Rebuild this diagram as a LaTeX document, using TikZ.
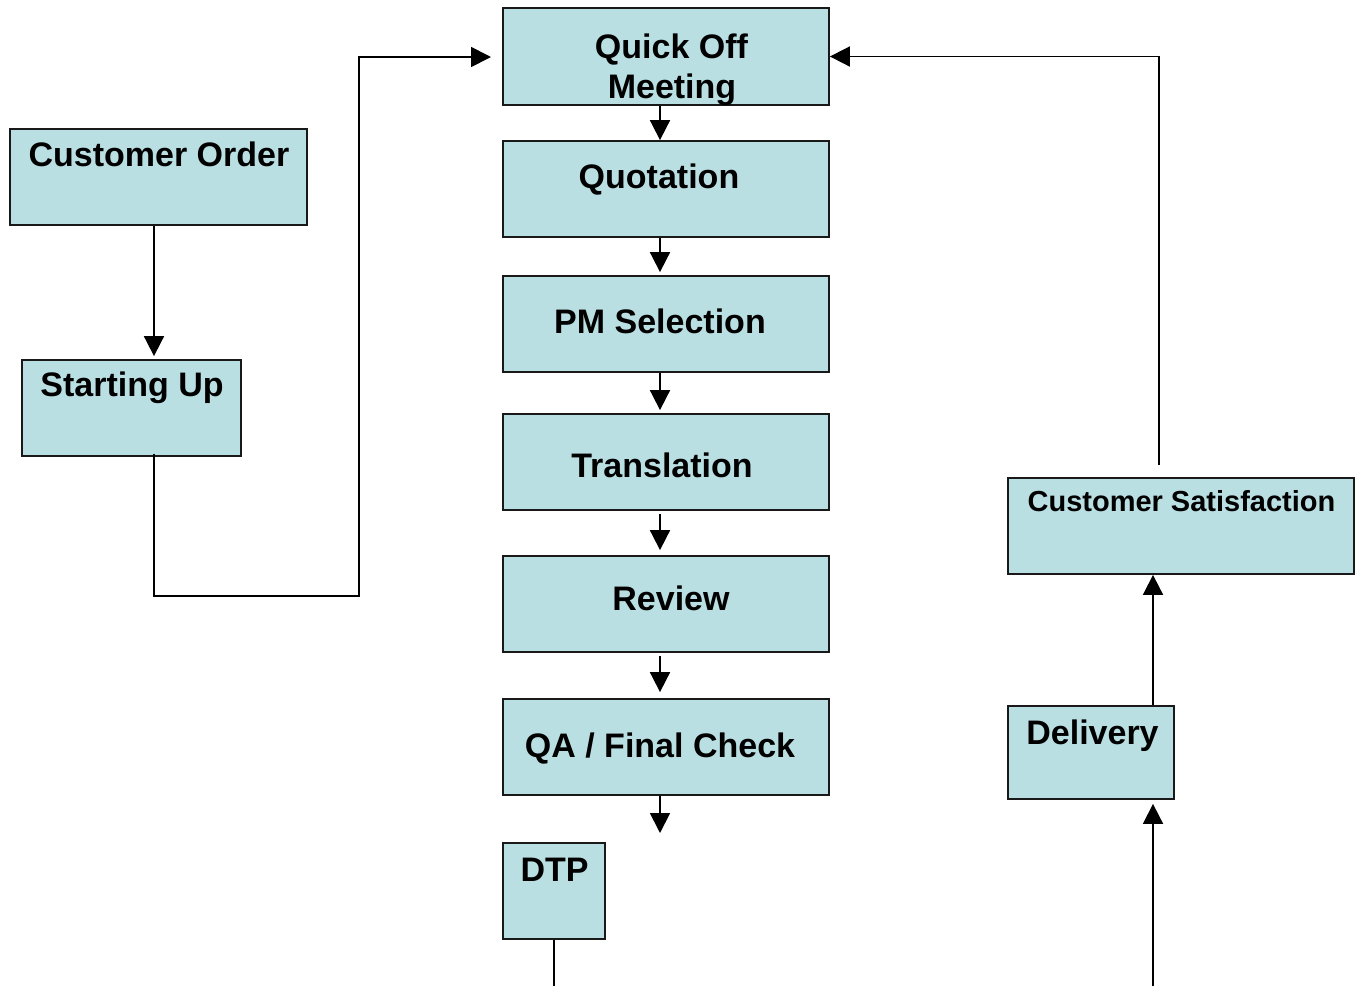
\documentclass[tikz,border=0pt]{standalone}
\usepackage{fontspec}
\setmainfont{Liberation Sans}
\usetikzlibrary{arrows.meta,calc}
\definecolor{boxfill}{RGB}{186,223,227}
\definecolor{boxline}{RGB}{25,25,25}
\tikzset{
  flowbox/.style={draw=boxline,line width=1.8pt,fill=boxfill,rectangle,inner sep=0pt},
  lbl/.style={anchor=base,inner sep=0pt,font=\bfseries\fontsize{34}{40}\selectfont},
  lblsmall/.style={anchor=base,inner sep=0pt,font=\bfseries\fontsize{29}{34}\selectfont},
  conn/.style={draw=black,line width=1.8pt},
  arr/.style={conn,-{Triangle[length=20pt,width=20pt]}}
}
\begin{document}
\begin{tikzpicture}[x=1pt,y=-1pt]
\useasboundingbox (0,0) rectangle (1362,986);
% boxes
\node[flowbox,minimum width=326pt,minimum height=97pt] (qom) at (666,56.5) {};
\node[flowbox,minimum width=326pt,minimum height=96pt] (quo) at (666,189) {};
\node[flowbox,minimum width=326pt,minimum height=96pt] (pm) at (666,324) {};
\node[flowbox,minimum width=326pt,minimum height=96pt] (tra) at (666,462) {};
\node[flowbox,minimum width=326pt,minimum height=96pt] (rev) at (666,604) {};
\node[flowbox,minimum width=326pt,minimum height=96pt] (qa) at (666,747) {};
\node[flowbox,minimum width=102pt,minimum height=96pt] (dtp) at (554,891) {};
\node[flowbox,minimum width=297pt,minimum height=96pt] (co) at (158.5,177) {};
\node[flowbox,minimum width=219pt,minimum height=96pt] (su) at (131.5,408) {};
\node[flowbox,minimum width=346pt,minimum height=96pt] (cs) at (1181,526) {};
\node[flowbox,minimum width=166pt,minimum height=93pt] (del) at (1091,752.5) {};
% labels
\node[lbl] (tqom1) at (671.5,58) {Quick Off};
\node[lbl] (tqom2) at (672,98) {Meeting};
\node[lbl] (tquo) at (659,188) {Quotation};
\node[lbl] (tpm) at (660,333) {PM Selection};
\node[lbl] (ttra) at (662,477) {Translation};
\node[lbl] (trev) at (671,610) {Review};
\node[lbl] (tqa) at (660,757) {QA / Final Check};
\node[lbl] (tdtp) at (554.5,881) {DTP};
\node[lbl] (tco) at (159,166) {Customer Order};
\node[lbl] (tsu) at (132,396) {Starting Up};
\node[lblsmall] (tcs) at (1181.5,511) {Customer Satisfaction};
\node[lbl] (tdel) at (1092.5,744) {Delivery};
% helper coordinates
\coordinate (ax) at (660,0);
\coordinate (lx) at (154,0);
\coordinate (rx) at (1153,0);
\coordinate (loopL) at (359,596);
\coordinate (qomin) at (491,57);
\coordinate (csout) at (1159,465);
\coordinate (qaout) at (660,833);
\coordinate (dtpend) at (554,986);
\coordinate (bottomin) at (1153,986);
% connectors
\draw[arr] (qom.south -| ax) -- (quo.north -| ax);
\draw[arr] (quo.south -| ax) -- ($(pm.north -| ax)+(0,-3)$);
\draw[arr] (pm.south -| ax) -- ($(tra.north -| ax)+(0,-3)$);
\draw[arr] ($(tra.south -| ax)+(0,3)$) -- ($(rev.north -| ax)+(0,-5)$);
\draw[arr] ($(rev.south -| ax)+(0,3)$) -- ($(qa.north -| ax)+(0,-6)$);
\draw[arr] (qa.south -| ax) -- (qaout);
\draw[conn] (dtp.south) -- (dtpend);
\draw[arr] (co.south -| lx) -- ($(su.north -| lx)+(0,-3)$);
\draw[arr] ($(su.south -| lx)+(0,-3)$) |- (loopL) -- (loopL |- qomin) -- (qomin);
\draw[arr] (csout) |- (qom.east);
\draw[arr] (del.north -| rx) -- (cs.south -| rx);
\draw[arr] (bottomin) -- ($(del.south -| rx)+(0,4)$);
\end{tikzpicture}
\end{document}
